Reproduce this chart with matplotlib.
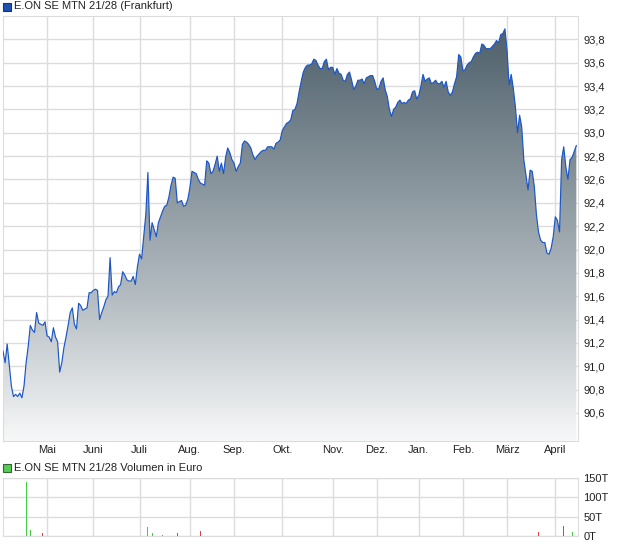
import matplotlib
matplotlib.use("Agg")
import matplotlib.pyplot as plt
import numpy as np
from matplotlib.colors import LinearSegmentedColormap

plt.rcParams['font.family'] = ['Liberation Sans', 'DejaVu Sans']

# closing prices, one per trading session
price = [
    91.13, 91.03, 91.19, 91.01, 90.83, 90.74, 90.76, 90.74, 90.77, 90.73,
    90.83, 91.03, 91.17, 91.35, 91.31, 91.29, 91.46, 91.37, 91.36, 91.35,
    91.38, 91.26, 91.25, 91.21, 91.33, 91.25, 91.21, 90.95, 91.03, 91.16,
    91.25, 91.35, 91.46, 91.50, 91.36, 91.32, 91.54, 91.52, 91.48, 91.49,
    91.50, 91.63, 91.63, 91.65, 91.66, 91.65, 91.40, 91.46, 91.51, 91.57,
    91.60, 91.93, 91.61, 91.64, 91.63, 91.68, 91.70, 91.81, 91.78, 91.74,
    91.73, 91.73, 91.77, 91.70, 91.85, 91.96, 91.92, 92.11, 92.30, 92.66,
    92.08, 92.23, 92.17, 92.11, 92.23, 92.28, 92.33, 92.37, 92.38, 92.45,
    92.55, 92.62, 92.61, 92.40, 92.41, 92.42, 92.37, 92.38, 92.43, 92.53,
    92.67, 92.66, 92.65, 92.60, 92.57, 92.56, 92.55, 92.76, 92.74, 92.65,
    92.67, 92.73, 92.80, 92.67, 92.74, 92.65, 92.79, 92.87, 92.83, 92.77,
    92.74, 92.67, 92.71, 92.74, 92.90, 92.93, 92.92, 92.90, 92.87, 92.81,
    92.77, 92.80, 92.82, 92.84, 92.85, 92.85, 92.88, 92.88, 92.88, 92.86,
    92.91, 92.92, 92.94, 93.02, 93.05, 93.08, 93.09, 93.11, 93.19, 93.20,
    93.25, 93.35, 93.44, 93.52, 93.56, 93.58, 93.58, 93.59, 93.63, 93.62,
    93.58, 93.55, 93.55, 93.61, 93.63, 93.54, 93.56, 93.56, 93.50, 93.55,
    93.51, 93.50, 93.45, 93.44, 93.50, 93.52, 93.45, 93.37, 93.40, 93.45,
    93.45, 93.46, 93.42, 93.47, 93.48, 93.49, 93.49, 93.44, 93.37, 93.38,
    93.44, 93.47, 93.37, 93.31, 93.20, 93.14, 93.20, 93.22, 93.26, 93.28,
    93.25, 93.26, 93.25, 93.28, 93.29, 93.35, 93.36, 93.29, 93.32, 93.40,
    93.50, 93.44, 93.46, 93.47, 93.42, 93.43, 93.45, 93.42, 93.42, 93.44,
    93.39, 93.44, 93.35, 93.32, 93.35, 93.42, 93.48, 93.67, 93.65, 93.53,
    93.54, 93.58, 93.60, 93.61, 93.65, 93.68, 93.69, 93.68, 93.76, 93.75,
    93.72, 93.72, 93.72, 93.74, 93.76, 93.79, 93.77, 93.84, 93.85, 93.89,
    93.71, 93.41, 93.50, 93.38, 93.22, 93.00, 93.15, 93.05, 92.77, 92.64,
    92.51, 92.68, 92.67, 92.54, 92.30, 92.15, 92.08, 92.06, 92.06, 91.97,
    91.96, 92.01, 92.11, 92.28, 92.25, 92.15, 92.77, 92.88, 92.71, 92.60,
    92.77, 92.79, 92.84, 92.89,
]

# first session of each month
month_start = [21, 43, 65, 89, 110, 133, 157, 178, 198, 219, 240, 263]
month_labels = ['Mai', 'Juni', 'Juli', 'Aug.', 'Sep.', 'Okt.', 'Nov.',
                'Dez.', 'Jan.', 'Feb.', 'März', 'April']

# turnover in thousand euro (T)
vol_session = [11, 13, 19, 69, 71, 76, 83, 94, 255, 267, 271]
vol_value = [140, 15, 9, 23, 8, 3, 8, 12, 10, 26, 10]
vol_up = [True, True, False, True, True, True, False, False, False, False, True]

y_ticks = np.arange(90.6, 93.81, 0.2)
vol_ticks = [0, 50, 100, 150]

x = np.arange(len(price))
xmax = 273.8
ymin, ymax = 90.36, 94.0

grid_col = '#dcdcdc'
line_col = '#1a56c8'

fig = plt.figure(figsize=(6.2, 5.46), dpi=100)
ax = fig.add_axes([3 / 620, 1 - 441 / 546, 575 / 620, 425 / 546])

# gradient area under the price line
cmap = LinearSegmentedColormap.from_list(
    'area', ['#f7f8f8', '#b5bdc2', '#7f8c94', '#4a5c68'])
grad = np.linspace(0, 1, 256).reshape(-1, 1)
img = ax.imshow(grad, cmap=cmap, origin='lower', aspect='auto',
                extent=[0, xmax, ymin, ymax], zorder=1)
poly = ax.fill_between(x, price, ymin, facecolor='none', edgecolor='none')
img.set_clip_path(poly.get_paths()[0], transform=ax.transData)
ax.plot(x, price, color=line_col, lw=0.85, zorder=3)

ax.set_xlim(0, xmax)
ax.set_ylim(ymin, ymax)
ax.set_xticks(month_start)
ax.set_xticklabels(month_labels)
ax.set_yticks(y_ticks)
ax.set_yticklabels([f'{v:.1f}'.replace('.', ',') for v in y_ticks])
ax.yaxis.tick_right()
ax.grid(True, color=grid_col, lw=1, zorder=0)
ax.set_axisbelow(True)
ax.tick_params(length=0, labelsize=8, colors='#222222')
ax.tick_params(axis='x', pad=3)
ax.tick_params(axis='y', pad=4)
for sp in ax.spines.values():
    sp.set_color(grid_col)

fig.patches.append(plt.Rectangle((3 / 620, 1 - 11 / 546), 8 / 620, 8 / 546,
                                 transform=fig.transFigure, facecolor='#1f4fb0',
                                 edgecolor='#223355', lw=0.8))
fig.text(14 / 620, 1 - 6 / 546, 'E.ON SE MTN 21/28 (Frankfurt)',
         fontsize=8, va='center', ha='left', color='#222222')

# volume panel
axv = fig.add_axes([3 / 620, 1 - 536 / 546, 575 / 620, 58 / 546])
colors = ['#44cc44' if u else '#e04040' for u in vol_up]
axv.bar(vol_session, vol_value, width=0.5, color=colors, zorder=3)
axv.set_xlim(0, xmax)
axv.set_ylim(0, 150)
axv.set_xticks(month_start)
axv.set_xticklabels([])
axv.set_yticks(vol_ticks)
axv.set_yticklabels([f'{v}T' for v in vol_ticks])
axv.yaxis.tick_right()
axv.grid(True, color=grid_col, lw=1, zorder=0)
axv.set_axisbelow(True)
axv.tick_params(length=0, labelsize=8, colors='#222222', pad=4)
for sp in axv.spines.values():
    sp.set_color(grid_col)

fig.patches.append(plt.Rectangle((3 / 620, 1 - 472 / 546), 8 / 620, 8 / 546,
                                 transform=fig.transFigure, facecolor='#55cc55',
                                 edgecolor='#336633', lw=0.8))
fig.text(14 / 620, 1 - 468 / 546, 'E.ON SE MTN 21/28 Volumen in Euro',
         fontsize=8, va='center', ha='left', color='#222222')

fig.savefig('out.png', dpi=100)
